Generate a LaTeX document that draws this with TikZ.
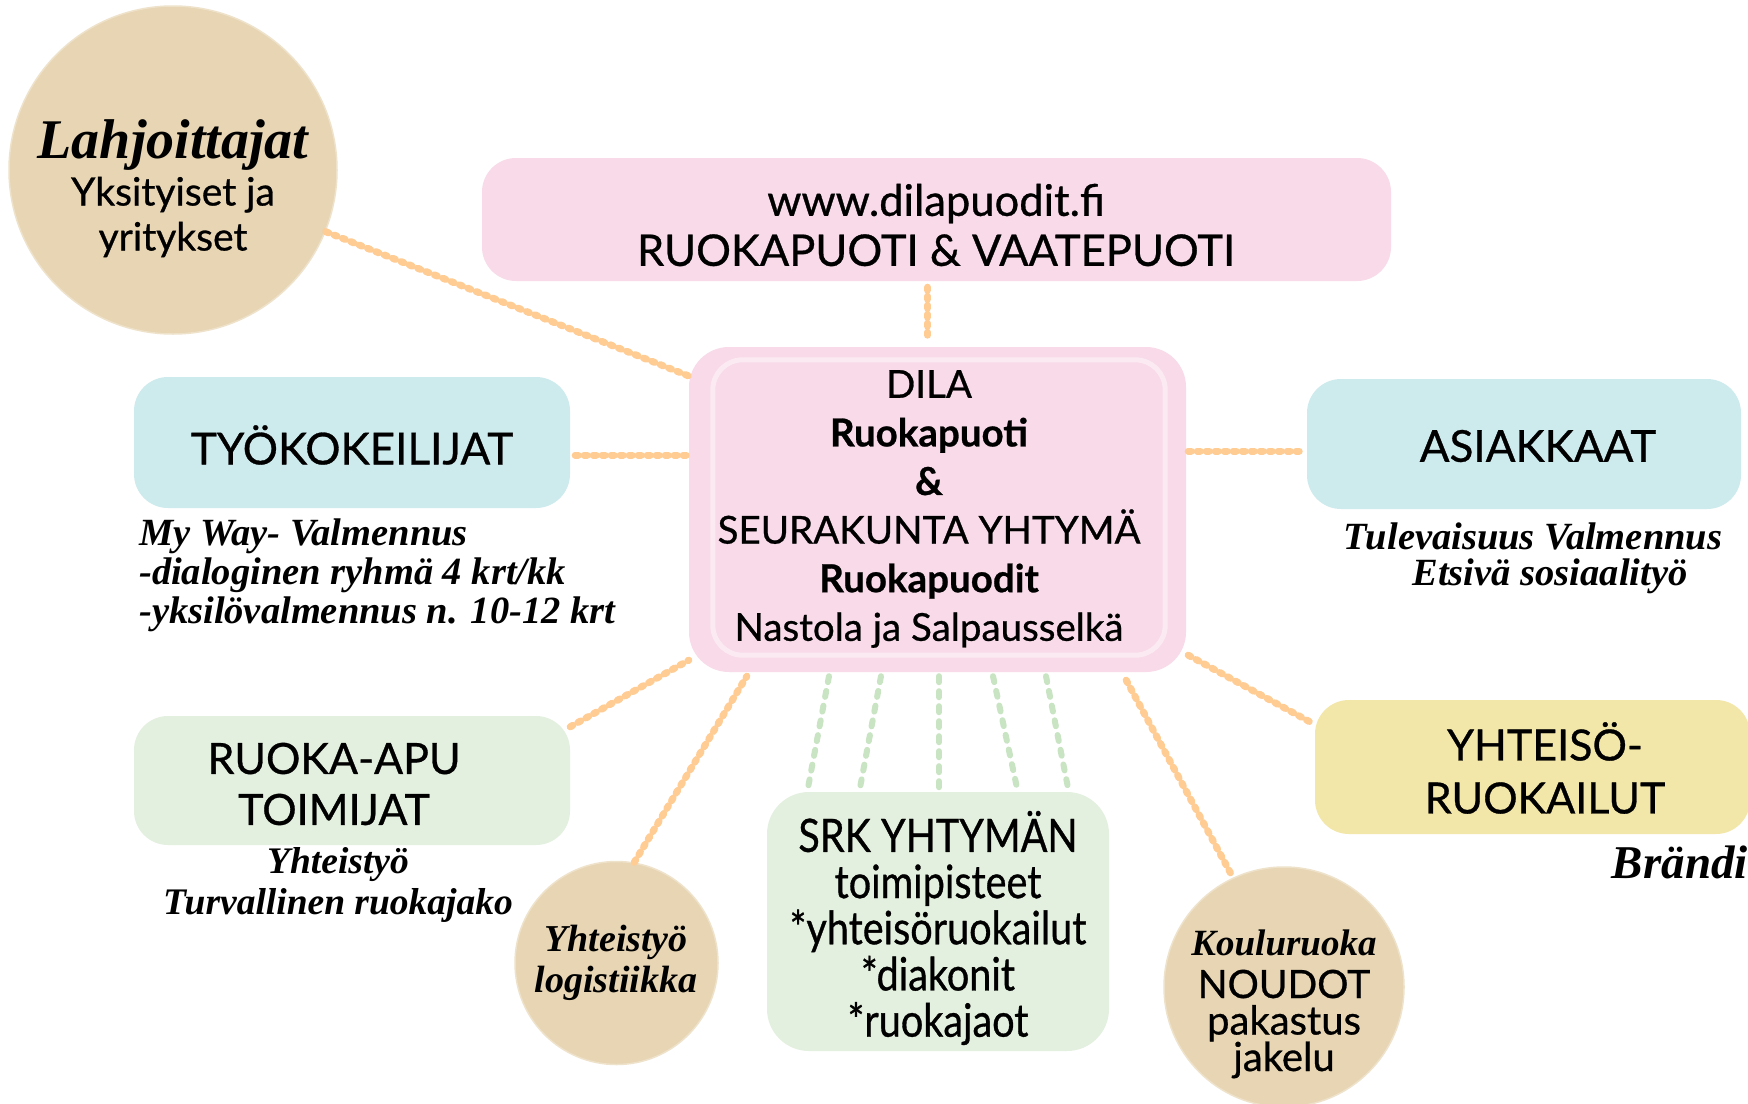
\documentclass[tikz,border=0pt]{standalone}
\usepackage{fontspec}
\usetikzlibrary{calc}
\newfontfamily\sansf{Lato}[FakeBold=0.7]
\newfontfamily\sanscond{Lato}[FakeStretch=0.86,FakeBold=0.7]
\newfontfamily\scrf{Liberation Serif}
\newcommand\scr{\scrf\bfseries\itshape}
\definecolor{pinkbox}{RGB}{248,218,232}
\definecolor{bluebox}{RGB}{205,234,237}
\definecolor{greenbox}{RGB}{228,240,223}
\definecolor{yellowbox}{RGB}{242,230,168}
\definecolor{beige}{RGB}{231,213,180}
\definecolor{orangeline}{RGB}{255,204,148}
\definecolor{greenline}{RGB}{200,228,195}
\begin{document}
\begin{tikzpicture}[x=1pt,y=-1pt,
  box/.style={rectangle, rounded corners=34pt, inner sep=0pt},
  disc/.style={circle, fill=beige, draw=beige!70!white, line width=1.5pt, inner sep=0pt},
  txt/.style={inner sep=0pt, align=center, text=black},
  odot/.style={draw=orangeline, line width=7pt, line cap=round, dash pattern=on 3pt off 6pt},
  gdot/.style={draw=greenline, line width=6pt, line cap=round, dash pattern=on 6pt off 9pt}]
\useasboundingbox (0,0) rectangle (1748,1103);
\fill[white] (0,0) rectangle (1748,1103);

% boxes
\node[box, fill=pinkbox, minimum width=909pt, minimum height=123pt] (top) at (936.5,219.5) {};
\node[box, fill=pinkbox, rounded corners=40pt, minimum width=497pt, minimum height=325pt] (ctr) at (937.5,509.5) {};
\draw[white, opacity=0.45, line width=5pt, rounded corners=30pt] ($(ctr.north west)+(24,13)$) rectangle ($(ctr.south east)+(-21,-17)$);
\node[box, fill=bluebox, minimum width=436pt, minimum height=131pt] (tyo) at (352,442.5) {};
\node[box, fill=bluebox, minimum width=434pt, minimum height=130pt] (asi) at (1524,444) {};
\node[box, fill=greenbox, minimum width=436pt, minimum height=129pt] (ruoka) at (352,780.5) {};
\node[box, fill=yellowbox, minimum width=435pt, minimum height=134pt] (yhteiso) at (1532.5,767) {};
\node[box, fill=greenbox, rounded corners=42pt, minimum width=342pt, minimum height=259pt] (srk) at (938,921.5) {};
\node[disc, minimum size=328pt] (lahj) at (173,170) {};
\node[disc, minimum size=203pt] (logi) at (616.5,963) {};
\node[disc, minimum size=240pt] (koulu) at (1284,987) {};

% connectors
\draw[odot] (lahj.-22) -- ($(ctr.north west)+(2,30)$);
\draw[odot] ($(top.south)+(-9,6)$) -- ($(ctr.north)+(-10,-7)$);
\draw[odot] ($(tyo.east)+(5,12.5)$) -- ($(ctr.west)+(2,-54.5)$);
\draw[odot] ($(ctr.east)+(2,-58.5)$) -- ($(asi.west)+(-4,7)$);
\draw[odot] ($(ruoka.north east)+(0,11)$) -- ($(ctr.south west)+(0,-12)$);
\draw[odot] (logi.80) -- ($(ctr.south west)+(58,4)$);
\draw[odot] ($(ctr.south east)+(-60,8)$) -- (koulu.115);
\draw[odot] ($(ctr.south east)+(2,-17)$) -- ($(yhteiso.north west)+(-5,22)$);
\foreach \a/\b in {-108.5/-130, -56.5/-78, 1.5/1, 55.5/79, 108.5/130}
  \draw[gdot] ($(ctr.south)+(\a,4)$) -- ($(srk.north)+(\b,-4)$);

% texts
\node[txt, font=\sansf\fontsize{43.5}{50}\selectfont] (toptxt) at (936,225) {www.dilapuodit.fi\\RUOKAPUOTI \& VAATEPUOTI};
\node[txt, font=\sansf\fontsize{38.5}{48.6}\selectfont] (ctrtxt) at (929,509) {DILA\\{\bfseries Ruokapuoti}\\{\bfseries\&}\\SEURAKUNTA YHTYMÄ\\{\bfseries Ruokapuodit}\\Nastola ja Salpausselkä};
\node[txt, font=\sansf\fontsize{44}{47}\selectfont] (tyotxt) at (352,445) {TYÖKOKEILIJAT};
\node[txt, font=\sansf\fontsize{44}{47}\selectfont] (asitxt) at (1538,446) {ASIAKKAAT};
\node[txt, font=\sansf\fontsize{43}{51}\selectfont] (ruokatxt) at (334,784) {RUOKA-APU\\TOIMIJAT};
\node[txt, font=\sansf\fontsize{43}{53}\selectfont] (yhttxt) at (1545,768) {YHTEISÖ-\\RUOKAILUT};
\node[txt, font=\sanscond\fontsize{46}{46.2}\selectfont] (srktxt) at (938,928) {SRK YHTYMÄN\\toimipisteet\\*yhteisöruokailut\\*diakonit\\*ruokajaot};
\node[txt, font=\sansf\fontsize{39}{45}\selectfont] (lahjtxt2) at (173,217) {Yksityiset ja\\yritykset};
\node[txt, font=\scr\fontsize{56}{50}\selectfont] (lahjtxt) at (173,145) {Lahjoittajat};
\node[txt, font=\sansf\fontsize{40}{36.5}\selectfont] (noudot) at (1284,1024) {{\fontsize{39}{36.5}\selectfont NOUDOT}\\pakastus\\jakelu};
\node[txt, font=\scr\fontsize{37}{36}\selectfont] (kouluruoka) at (1284,943) {Kouluruoka};
\node[txt, font=\scr\fontsize{38}{41}\selectfont] (logitxt) at (616,963) {Yhteistyö\\logistiikka};
\node[txt, font=\scr\fontsize{37.5}{41}\selectfont] (ruokasub) at (338,885) {Yhteistyö\\Turvallinen ruokajako};
\node[txt, align=left, anchor=west, font=\scr\fontsize{38.5}{39}\selectfont] (myway) at (139,575) {My Way- Valmennus\\-dialoginen ryhmä 4 krt/kk\\-yksilövalmennus n. 10-12 krt};
\node[txt, font=\scr\fontsize{38.5}{39}\selectfont] (tulev) at (1533,536) {Tulevaisuus Valmennus};
\node[txt, font=\scr\fontsize{38.5}{39}\selectfont] (etsiva) at (1550,576) {Etsivä sosiaalityö};
\node[txt, anchor=east, font=\scr\fontsize{47}{40}\selectfont] (brandi) at (1748,862) {Brändi};
\end{tikzpicture}
\end{document}
